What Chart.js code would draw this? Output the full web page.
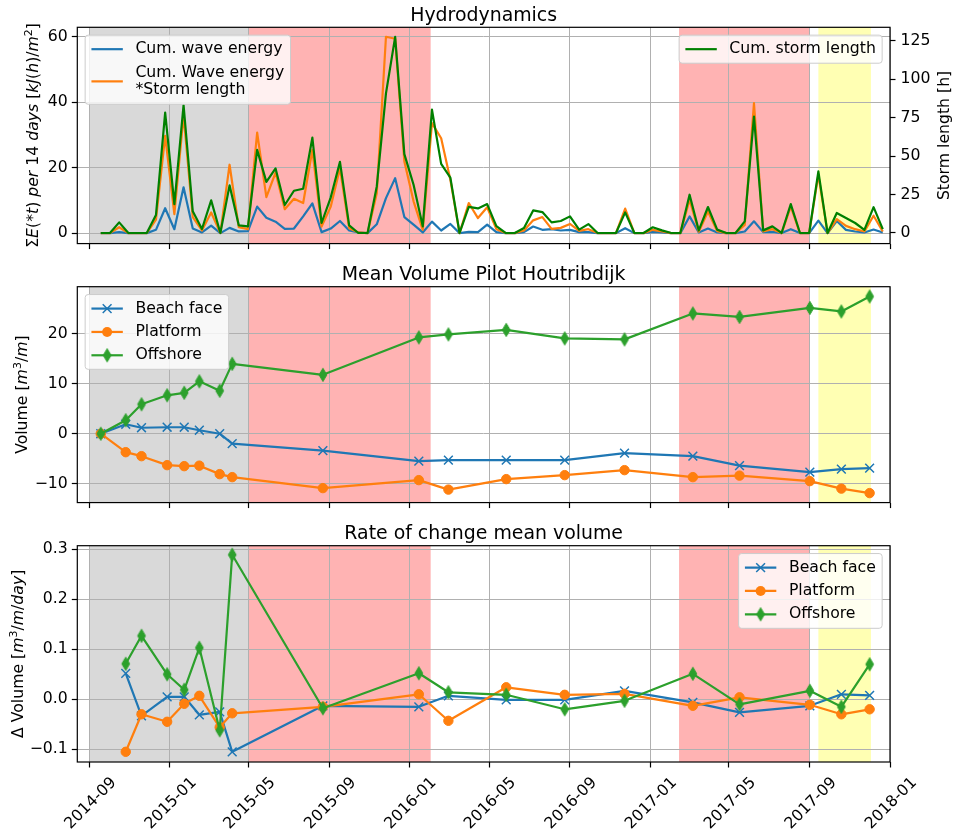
<!DOCTYPE html>
<html>
<head>
<meta charset="utf-8">
<script src="https://cdn.jsdelivr.net/npm/chart.js@4.4.0/dist/chart.umd.min.js"></script>
<style>
  html, body { margin: 0; padding: 0; background: #fff; }
  #wrap { position: relative; width: 957px; height: 831px; }
  canvas { position: absolute; left: 0; }
</style>
</head>
<body>
<div id="wrap">
  <canvas id="hydro" width="957" height="258" style="top:0"></canvas>
  <canvas id="volume" width="957" height="258" style="top:258px"></canvas>
  <canvas id="rate" width="957" height="315" style="top:516px"></canvas>
</div>
<script>
// ---- data ----
const hydroStart = '2014-09-18'; // first 14-day window, one value per 14 days
const waveEnergy = [0, 0, 0.3, 0, 0, 0, 1.0, 7.6, 1.2, 14.0,
  1.4, 0.2, 2.3, 0, 1.6, 0.5, 0.6, 8.1, 4.7, 3.5,
  1.3, 1.4, 5.1, 9.1, 0.3, 1.4, 3.7, 0.8, 0.2, 0,
  2.7, 10.7, 16.8, 4.9, 2.6, 0.2, 3.5, 0.8, 2.8, 0,
  0.4, 0.3, 2.6, 0.3, 0, 0, 0.3, 2.0, 1.0, 1.2,
  0.8, 1.0, 0.3, 0.3, 0, 0, 0, 1.5, 0, 0,
  0.4, 0.2, 0, 0, 5.1, 0.2, 1.4, 0.2, 0, 0,
  0.5, 3.6, 0.3, 0.4, 0, 1.2, 0, 0, 3.8, 0,
  3.7, 1.0, 0.5, 0.2, 1.1, 0.2];
const waveEnergyStorm = [0, 0, 1.8, 0, 0, 0, 4.1, 29.7, 5.8, 36.1,
  4.9, 0.8, 6.3, 0, 20.9, 1.8, 1.2, 30.7, 11.0, 18.5,
  7.3, 10.5, 9.2, 25.4, 2.0, 8.1, 19.8, 1.5, 0.2, 0,
  12.2, 60.0, 59.4, 21.9, 9.7, 1.0, 33.6, 29.0, 16.3, 0,
  9.2, 4.6, 7.9, 1.2, 0, 0, 0.8, 3.9, 4.9, 1.3,
  1.6, 2.8, 0.7, 1.2, 0, 0, 0, 7.5, 0, 0,
  1.0, 0.5, 0, 0, 10.2, 0.4, 6.6, 0.6, 0, 0,
  2.5, 39.7, 0.5, 1.2, 0, 8.1, 0, 0, 17.8, 0,
  4.3, 2.2, 1.2, 0.5, 5.3, 0.5];
const stormLength = [0, 0, 6.9, 0, 0, 0, 11.7, 78.4, 18.8, 83.3,
  14.1, 2.6, 21.2, 0, 31.0, 5.0, 4.3, 54.1, 33.3, 42.0,
  18.2, 27.5, 28.8, 62.1, 6.5, 23.2, 46.3, 5.0, 0, 0,
  30.3, 90.9, 127.7, 51.3, 31.4, 4.3, 80.3, 45.0, 36.0, 0,
  17.0, 16.0, 18.8, 4.5, 0, 0, 3.2, 14.7, 13.6, 6.9,
  7.8, 10.8, 2.2, 5.8, 0, 0, 0, 13.4, 0, 0,
  3.7, 1.7, 0, 0, 24.9, 1.7, 16.9, 2.2, 0, 0,
  7.6, 75.8, 1.7, 4.3, 0, 18.8, 0, 0, 40.1, 0,
  13.0, 9.8, 6.5, 2.0, 16.8, 2.5];

const surveyDates = ['2014-09-18', '2014-10-26', '2014-11-19', '2014-12-28', '2015-01-23',
  '2015-02-15', '2015-03-18', '2015-04-06', '2015-08-22', '2016-01-15', '2016-02-29',
  '2016-05-27', '2016-08-24', '2016-11-23', '2017-03-07', '2017-05-17', '2017-09-01',
  '2017-10-19', '2017-12-01'];
const volBeachFace = [0, 1.9, 1.2, 1.3, 1.3, 0.7, 0.0, -2.0, -3.4, -5.5, -5.3, -5.3, -5.3, -3.9, -4.5, -6.4, -7.7, -7.1, -6.9];
const volPlatform = [0, -3.7, -4.5, -6.3, -6.5, -6.4, -8.1, -8.7, -10.9, -9.3, -11.2, -9.1, -8.3, -7.3, -8.7, -8.4, -9.5, -11.0, -11.9];
const volOffshore = [0, 2.7, 5.9, 7.7, 8.2, 10.5, 8.6, 14.0, 11.8, 19.3, 19.9, 20.8, 19.1, 18.9, 24.1, 23.4, 25.2, 24.5, 27.5];

// rates belong to the survey dates from the second one on
const rateBeachFace = [0.052, -0.033, 0.005, 0.005, -0.031, -0.025, -0.105, -0.013, -0.015, 0.007, -0.001, -0.001, 0.017, -0.006, -0.026, -0.013, 0.010, 0.008];
const ratePlatform = [-0.105, -0.030, -0.045, -0.009, 0.007, -0.056, -0.028, -0.015, 0.010, -0.043, 0.024, 0.009, 0.011, -0.013, 0.004, -0.011, -0.030, -0.020];
const rateOffshore = [0.071, 0.127, 0.050, 0.019, 0.103, -0.062, 0.289, -0.018, 0.052, 0.014, 0.009, -0.020, -0.003, 0.051, -0.010, 0.017, -0.015, 0.070];

const xTicks = ['2014-09', '2015-01', '2015-05', '2015-09', '2016-01', '2016-05', '2016-09', '2017-01', '2017-05', '2017-09', '2018-01'];
const energyTicks = [0, 20, 40, 60];
const stormTicks = [0, 25, 50, 75, 100, 125];
const volumeTicks = [-10, 0, 10, 20];
const rateTicks = [-0.1, 0, 0.1, 0.2, 0.3];

const periods = [
  { from: '2014-09-01', to: '2015-05-01', color: '#d9d9d9' },
  { from: '2015-05-01', to: '2016-02-02', color: '#ffb3b3' },
  { from: '2017-02-14', to: '2017-09-01', color: '#ffb3b3' },
  { from: '2017-09-14', to: '2017-12-03', color: '#ffffb3' }
];

// ---- helpers ----
const DAY = 86400000;
const day = s => Date.parse(s.length === 7 ? s + '-01' : s);
const X_MIN = day('2014-08-13') + 0.3 * DAY;
const X_MAX = day('2018-01-01');
const fs = 15.7;
const FONT = '"DejaVu Sans"';

Chart.defaults.font.family = 'DejaVu Sans';
Chart.defaults.font.size = fs;
Chart.defaults.color = '#000';

const hydroDates = waveEnergy.map((_, i) => day(hydroStart) + i * 14 * DAY);
const pts = (xs, ys) => ys.map((v, i) => ({ x: typeof xs[i] === 'string' ? day(xs[i]) : xs[i], y: v }));
const fmt = (v, d) => (v < 0 ? '\u2212' : '') + Math.abs(v).toFixed(d);

function thinDiamond(color) {
  const c = document.createElement('canvas');
  c.width = 12; c.height = 16;
  const g = c.getContext('2d');
  g.beginPath();
  g.moveTo(6, 1.4); g.lineTo(9.9, 8); g.lineTo(6, 14.6); g.lineTo(2.1, 8); g.closePath();
  g.fillStyle = color; g.fill();
  g.strokeStyle = color; g.lineWidth = 1; g.stroke();
  return c;
}

function xScale(h) {
  return {
    type: 'linear', min: X_MIN, max: X_MAX,
    afterBuildTicks: s => { s.ticks = xTicks.map(t => ({ value: day(t) })); },
    afterFit: s => { s.height = h; },
    ticks: { callback: () => '', autoSkip: false, maxRotation: 0, minRotation: 0 },
    grid: { color: '#b0b0b0', lineWidth: 1, tickColor: '#000', tickLength: 5.5, tickWidth: 1.2 },
    border: { display: false }
  };
}

function yScale(pos, min, max, ticks, dec, width, grid) {
  return {
    position: pos, min: min, max: max,
    afterBuildTicks: s => { s.ticks = ticks.map(v => ({ value: v })); },
    afterFit: s => { s.width = width; },
    ticks: { callback: v => fmt(v, dec), padding: pos === 'left' ? 4 : 5, color: '#000', font: { size: fs } },
    grid: { drawOnChartArea: grid, color: '#b0b0b0', lineWidth: 1, tickColor: '#000', tickLength: 5.5, tickWidth: 1.2 },
    border: { display: false }
  };
}

function drawRich(ctx, parts, size, base) {
  let total = 0;
  const items = parts.map(([t, st]) => {
    const sz = st === 's' ? size * 0.7 : size;
    const font = (st === 'i' ? 'italic ' : '') + sz + 'px ' + FONT;
    ctx.font = font;
    const w = ctx.measureText(t).width;
    total += w;
    return { t, st, font, w };
  });
  let cx = -total / 2;
  items.forEach(p => {
    ctx.font = p.font;
    ctx.fillText(p.t, cx, base + (p.st === 's' ? -size * 0.38 : 0));
    cx += p.w;
  });
}

function drawMarker(ctx, ds, x, y) {
  const c = ds.borderColor;
  if (ds.pointStyle === 'crossRot') {
    const r = 4.4;
    ctx.strokeStyle = c; ctx.lineWidth = 1.5;
    ctx.beginPath();
    ctx.moveTo(x - r, y - r); ctx.lineTo(x + r, y + r);
    ctx.moveTo(x - r, y + r); ctx.lineTo(x + r, y - r);
    ctx.stroke();
  } else if (ds.pointStyle === 'circle') {
    ctx.fillStyle = c;
    ctx.beginPath(); ctx.arc(x, y, 5, 0, Math.PI * 2); ctx.fill();
  } else if (ds.pointStyle instanceof HTMLCanvasElement) {
    ctx.drawImage(ds.pointStyle, x - ds.pointStyle.width / 2, y - ds.pointStyle.height / 2);
  }
}

function drawLegend(chart, lg) {
  const ctx = chart.ctx, a = chart.chartArea;
  const pad = 0.4 * fs, hl = 2 * fs, tp = 0.8 * fs, sp = 0.5 * fs, ap = 0.5 * fs;
  const rowH = 15.5, lineH = 17.7;
  ctx.font = fs + 'px ' + FONT;
  const rows = lg.items.map(i => {
    const ds = chart.data.datasets[i];
    const lines = ds.label.split('\n');
    return { ds, lines, h: rowH + (lines.length - 1) * lineH,
      w: Math.max(...lines.map(l => ctx.measureText(l).width)) };
  });
  const W = pad + hl + tp + Math.max(...rows.map(r => r.w)) + pad;
  const H = 2 * pad + rows.reduce((s, r) => s + r.h, 0) + sp * (rows.length - 1);
  const x0 = lg.loc === 'right' ? a.right - ap - W : a.left + ap;
  const y0 = a.top + ap;
  const rr = 3;
  ctx.save();
  ctx.beginPath();
  ctx.moveTo(x0 + rr, y0);
  ctx.arcTo(x0 + W, y0, x0 + W, y0 + H, rr);
  ctx.arcTo(x0 + W, y0 + H, x0, y0 + H, rr);
  ctx.arcTo(x0, y0 + H, x0, y0, rr);
  ctx.arcTo(x0, y0, x0 + W, y0, rr);
  ctx.closePath();
  ctx.fillStyle = 'rgba(255,255,255,0.8)';
  ctx.fill();
  ctx.strokeStyle = '#cccccc'; ctx.lineWidth = 1;
  ctx.stroke();
  let y = y0 + pad;
  rows.forEach(r => {
    const cy = y + r.h / 2;
    ctx.strokeStyle = r.ds.borderColor; ctx.lineWidth = r.ds.borderWidth;
    ctx.beginPath(); ctx.moveTo(x0 + pad, cy); ctx.lineTo(x0 + pad + hl, cy); ctx.stroke();
    drawMarker(ctx, r.ds, x0 + pad + hl / 2, cy);
    ctx.fillStyle = '#000'; ctx.font = fs + 'px ' + FONT;
    ctx.textAlign = 'left'; ctx.textBaseline = 'middle';
    r.lines.forEach((l, k) => ctx.fillText(l, x0 + pad + hl + tp, y + rowH / 2 + k * lineH));
    y += r.h + sp;
  });
  ctx.restore();
}

function mplPlugin(cfg) {
  return {
    id: 'mpl',
    beforeDraw(chart) {
      const { ctx, chartArea: a, scales: { x } } = chart;
      ctx.save();
      periods.forEach(p => {
        const x0 = Math.max(x.getPixelForValue(day(p.from)), a.left);
        const x1 = Math.min(x.getPixelForValue(day(p.to)), a.right);
        ctx.fillStyle = p.color;
        ctx.fillRect(x0, a.top, x1 - x0, a.bottom - a.top);
      });
      ctx.restore();
    },
    afterDraw(chart) {
      const { ctx, chartArea: a, scales: { x } } = chart;
      ctx.save();
      // frame
      ctx.strokeStyle = '#000'; ctx.lineWidth = 1.2;
      ctx.strokeRect(a.left, a.top, a.right - a.left, a.bottom - a.top);
      // title
      ctx.fillStyle = '#000';
      ctx.font = '18.9px ' + FONT;
      ctx.textAlign = 'center'; ctx.textBaseline = 'alphabetic';
      ctx.fillText(cfg.title, (a.left + a.right) / 2, a.top - 6.5);
      // y label (left)
      const cy = (a.top + a.bottom) / 2;
      ctx.save();
      ctx.translate(cfg.yLabelX, cy); ctx.rotate(-Math.PI / 2);
      ctx.textAlign = 'left';
      drawRich(ctx, cfg.yLabel, fs, -3.7);
      ctx.restore();
      // y label (right)
      if (cfg.y2Label) {
        ctx.save();
        ctx.translate(937, cy); ctx.rotate(-Math.PI / 2);
        ctx.font = fs + 'px ' + FONT; ctx.textAlign = 'center';
        ctx.fillText(cfg.y2Label, 0, 11.6);
        ctx.restore();
      }
      // rotated date labels
      if (cfg.xLabels) {
        ctx.font = fs + 'px ' + FONT; ctx.textAlign = 'center'; ctx.textBaseline = 'alphabetic';
        const cap = 0.73 * fs;
        xTicks.forEach(t => {
          const px = x.getPixelForValue(day(t));
          const half = (ctx.measureText(t).width + cap) * Math.SQRT1_2 / 2;
          ctx.save();
          ctx.translate(px, a.bottom + 13 + half); ctx.rotate(-Math.PI / 4);
          ctx.fillText(t, 0, cap / 2);
          ctx.restore();
        });
      }
      ctx.restore();
      (cfg.legends || []).forEach(lg => drawLegend(chart, lg));
    }
  };
}

const baseOpts = {
  responsive: false, animation: false, events: [],
  plugins: { legend: { display: false }, tooltip: { enabled: false } }
};

// ---- Hydrodynamics ----
const lineTop = { borderWidth: 2.2, pointRadius: 0, tension: 0, fill: false, borderJoinStyle: 'round' };
new Chart(document.getElementById('hydro'), {
  type: 'line',
  data: {
    datasets: [
      { ...lineTop, label: 'Cum. wave energy', data: pts(hydroDates, waveEnergy), borderColor: '#1f77b4', yAxisID: 'y', order: 3 },
      { ...lineTop, label: 'Cum. Wave energy\n*Storm length', data: pts(hydroDates, waveEnergyStorm), borderColor: '#ff7f0e', yAxisID: 'y', order: 2 },
      { ...lineTop, label: 'Cum. storm length', data: pts(hydroDates, stormLength), borderColor: '#008000', yAxisID: 'y2', order: 1 }
    ]
  },
  options: {
    ...baseOpts,
    layout: { autoPadding: false, padding: { top: 27.3, left: 0, right: 0, bottom: 0 } },
    scales: {
      x: xScale(14),
      y: yScale('left', -3.2, 62.9, energyTicks, 0, 77.3, true),
      y2: yScale('right', -6.9, 133.9, stormTicks, 0, 67, false)
    }
  },
  plugins: [mplPlugin({
    title: 'Hydrodynamics',
    yLabelX: 42,
    yLabel: [['\u03A3', ''], ['E', 'i'], ['(*', ''], ['t', 'i'], [')', ''], [' per', 'i'], [' 14 ', ''], ['days', 'i'],
      [' [', ''], ['kJ', 'i'], ['(', ''], ['h', 'i'], [')/', ''], ['m', 'i'], ['2', 's'], [']', '']],
    y2Label: 'Storm length [h]',
    legends: [{ loc: 'left', items: [0, 1] }, { loc: 'right', items: [2] }]
  })]
});

// ---- volume and rate charts ----
function markerSets(beach, plat, off) {
  const common = { borderWidth: 2.2, tension: 0, fill: false, borderJoinStyle: 'round' };
  return [
    { ...common, label: 'Beach face', data: beach, borderColor: '#1f77b4', pointStyle: 'crossRot', pointRadius: 6.2,
      pointBorderWidth: 1.5, pointBorderColor: '#1f77b4', order: 3 },
    { ...common, label: 'Platform', data: plat, borderColor: '#ff7f0e', pointStyle: 'circle', pointRadius: 4.7,
      pointBorderWidth: 1, pointBackgroundColor: '#ff7f0e', pointBorderColor: '#ff7f0e', order: 2 },
    { ...common, label: 'Offshore', data: off, borderColor: '#2ca02c', pointStyle: thinDiamond('#2ca02c'), pointRadius: 6,
      order: 1 }
  ];
}

new Chart(document.getElementById('volume'), {
  type: 'line',
  data: { datasets: markerSets(pts(surveyDates, volBeachFace), pts(surveyDates, volPlatform), pts(surveyDates, volOffshore)) },
  options: {
    ...baseOpts,
    layout: { autoPadding: false, padding: { top: 28.7, left: 0, right: 67, bottom: 0 } },
    scales: {
      x: xScale(13.2),
      y: yScale('left', -13.8, 29.46, volumeTicks, 0, 77.3, true)
    }
  },
  plugins: [mplPlugin({
    title: 'Mean Volume Pilot Houtribdijk',
    yLabelX: 31,
    yLabel: [['Volume [', ''], ['m', 'i'], ['3', 's'], ['/', ''], ['m', 'i'], [']', '']],
    legends: [{ loc: 'left', items: [0, 1, 2] }]
  })]
});

const rateDates = surveyDates.slice(1);
new Chart(document.getElementById('rate'), {
  type: 'line',
  data: { datasets: markerSets(pts(rateDates, rateBeachFace), pts(rateDates, ratePlatform), pts(rateDates, rateOffshore)) },
  options: {
    ...baseOpts,
    layout: { autoPadding: false, padding: { top: 29.7, left: 0, right: 67, bottom: 0 } },
    scales: {
      x: xScale(69),
      y: yScale('left', -0.1254, 0.3072, rateTicks, 1, 77.3, true)
    }
  },
  plugins: [mplPlugin({
    title: 'Rate of change mean volume',
    yLabelX: 27,
    yLabel: [['\u0394 Volume [', ''], ['m', 'i'], ['3', 's'], ['/', ''], ['m', 'i'], ['/', ''], ['day', 'i'], [']', '']],
    legends: [{ loc: 'right', items: [0, 1, 2] }],
    xLabels: true
  })]
});
</script>
</body>
</html>
